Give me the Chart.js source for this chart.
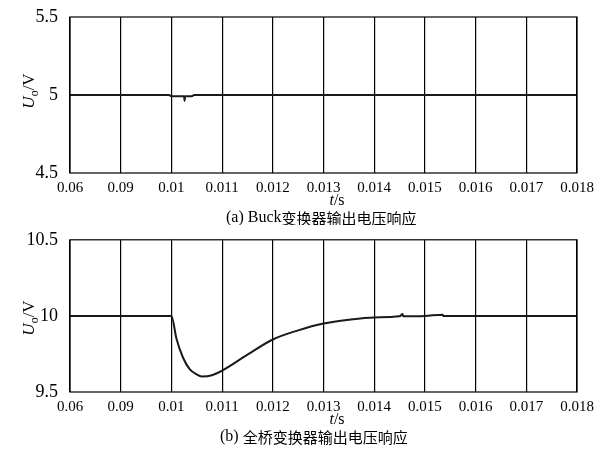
<!DOCTYPE html>
<html>
<head>
<meta charset="utf-8">
<script src="https://cdn.jsdelivr.net/npm/chart.js@4.4.0/dist/chart.umd.min.js"></script>
<style>
  html, body { margin: 0; padding: 0; background: #fff; }
  #wrap { width: 606px; height: 451px; }
  .box { position: relative; width: 606px; }
</style>
</head>
<body>
<div id="wrap">
  <div class="box" style="height:225px"><canvas id="buck-chart"></canvas></div>
  <div class="box" style="height:226px"><canvas id="bridge-chart"></canvas></div>
</div>
<script>
// tick labels exactly as printed in the figure
var tickLabels = ['0.06', '0.09', '0.01', '0.011', '0.012', '0.013', '0.014', '0.015', '0.016', '0.017', '0.018'];

// (a) Buck converter output voltage
var buckTime = [0.008, 0.00995, 0.01, 0.01025, 0.01026, 0.01027, 0.0104, 0.01045, 0.018];
var buckVolt = [5, 5, 4.992, 4.992, 4.962, 4.992, 4.992, 5, 5];

// (b) full bridge converter output voltage
var bridgeTime = [0.008, 0.01, 0.0101, 0.01023, 0.01036, 0.0105, 0.0106, 0.0108, 0.011, 0.0115,
                  0.012, 0.0125, 0.013, 0.0135, 0.014, 0.0145, 0.01456, 0.01457, 0.015, 0.01535, 0.01536, 0.018];
var bridgeVolt = [10, 10, 9.85, 9.725, 9.65, 9.615, 9.602, 9.61, 9.64, 9.745,
                  9.845, 9.905, 9.95, 9.975, 9.99, 9.997, 10.012, 9.998, 10, 10.008, 10, 10];

var serif = "'Liberation Serif', 'DejaVu Serif', serif";
var cjk = "'Noto Sans CJK SC', sans-serif";

function toPoints(xs, ys) {
    var pts = [];
    for (var i = 0; i < xs.length; i++) {
        pts.push({x: xs[i], y: ys[i]});
    }
    return pts;
}

// frame, axis titles and caption
function decorPlugin(caption, yTitleCenter, xTitleY, captionY) {
    return {
        id: 'decor',
        afterDraw: function (chart) {
            var ctx = chart.ctx, a = chart.chartArea;
            ctx.save();
            ctx.strokeStyle = '#000';
            ctx.lineWidth = 1.2;
            ctx.strokeRect(a.left, a.top, a.right - a.left, a.bottom - a.top);

            // y title  U_o/V
            ctx.translate(30, yTitleCenter);
            ctx.rotate(-Math.PI / 2);
            ctx.fillStyle = '#000';
            ctx.textBaseline = 'middle';
            ctx.font = 'italic 17px ' + serif;
            var w1 = ctx.measureText('U').width;
            ctx.font = '12px ' + serif;
            var w2 = ctx.measureText('o').width;
            ctx.font = '17px ' + serif;
            var w3 = ctx.measureText('/V').width;
            var x0 = -(w1 + w2 + w3) / 2;
            ctx.textAlign = 'left';
            ctx.font = 'italic 17px ' + serif;
            ctx.fillText('U', x0, 0);
            ctx.font = '12px ' + serif;
            ctx.fillText('o', x0 + w1, 5);
            ctx.font = '17px ' + serif;
            ctx.fillText('/V', x0 + w1 + w2, 0);
            ctx.restore();

            // x title  t/s
            ctx.save();
            ctx.fillStyle = '#000';
            ctx.textBaseline = 'middle';
            ctx.textAlign = 'left';
            ctx.font = 'italic 16px ' + serif;
            var tw = ctx.measureText('t').width;
            ctx.font = '16px ' + serif;
            var sw = ctx.measureText('/s').width;
            var tx = 337 - (tw + sw) / 2;
            ctx.font = 'italic 16px ' + serif;
            ctx.fillText('t', tx, xTitleY);
            ctx.font = '16px ' + serif;
            ctx.fillText('/s', tx + tw, xTitleY);

            // caption
            ctx.font = '16px ' + serif;
            var pw = ctx.measureText(caption[0]).width;
            ctx.fillText(caption[0], caption[2], captionY);
            ctx.font = '15px ' + cjk;
            ctx.fillText(caption[1], caption[2] + pw, captionY);
            ctx.restore();
        }
    };
}

function makeChart(el, xs, ys, yMin, yMax, pad, axisH, plugin) {
    return new Chart(el, {
        type: 'line',
        data: {
            datasets: [
                {
                    data: toPoints(xs, ys),
                    borderColor: '#1a1a1a',
                    borderWidth: 2,
                    pointRadius: 0,
                    cubicInterpolationMode: 'monotone',
                    fill: false
                },
            ]
        },
        options: {
            responsive: true,
            maintainAspectRatio: false,
            animation: false,
            layout: { padding: { top: pad, right: 29, left: 0, bottom: 0 } },
            plugins: { legend: { display: false }, tooltip: { enabled: false } },
            scales: {
                x: {
                    type: 'linear',
                    min: 0.008,
                    max: 0.018,
                    afterBuildTicks: function (axis) {
                        axis.ticks = tickLabels.map(function (l, i) { return {value: 0.008 + i * 0.001}; });
                    },
                    afterFit: function (axis) { axis.height = axisH; },
                    grid: { display: true, color: '#000', lineWidth: 1.2, drawTicks: false },
                    border: { display: false },
                    ticks: {
                        color: '#000',
                        padding: 6,
                        maxRotation: 0,
                        autoSkip: false,
                        font: { family: serif, size: 15 },
                        callback: function (v, i) { return tickLabels[i]; }
                    }
                },
                y: {
                    min: yMin,
                    max: yMax,
                    afterBuildTicks: function (axis) {
                        axis.ticks = [{value: yMin}, {value: (yMin + yMax) / 2}, {value: yMax}];
                    },
                    afterFit: function (axis) { axis.width = 70; },
                    grid: { display: false },
                    border: { display: false },
                    ticks: {
                        color: '#000',
                        padding: 4,
                        font: { family: serif, size: 18 },
                        callback: function (v) { return String(v); }
                    }
                }
            }
        },
        plugins: [plugin]
    });
}

window.onload = function () {
    makeChart(document.getElementById('buck-chart'), buckTime, buckVolt, 4.5, 5.5, 17, 52,
        decorPlugin(['(a) Buck', '变换器输出电压响应', 226], 91, 201, 218));
    makeChart(document.getElementById('bridge-chart'), bridgeTime, bridgeVolt, 9.5, 10.5, 10, 59,
        decorPlugin(['(b) ', '全桥变换器输出电压响应', 220], 93, 195, 212));
};
</script>
</body>
</html>
